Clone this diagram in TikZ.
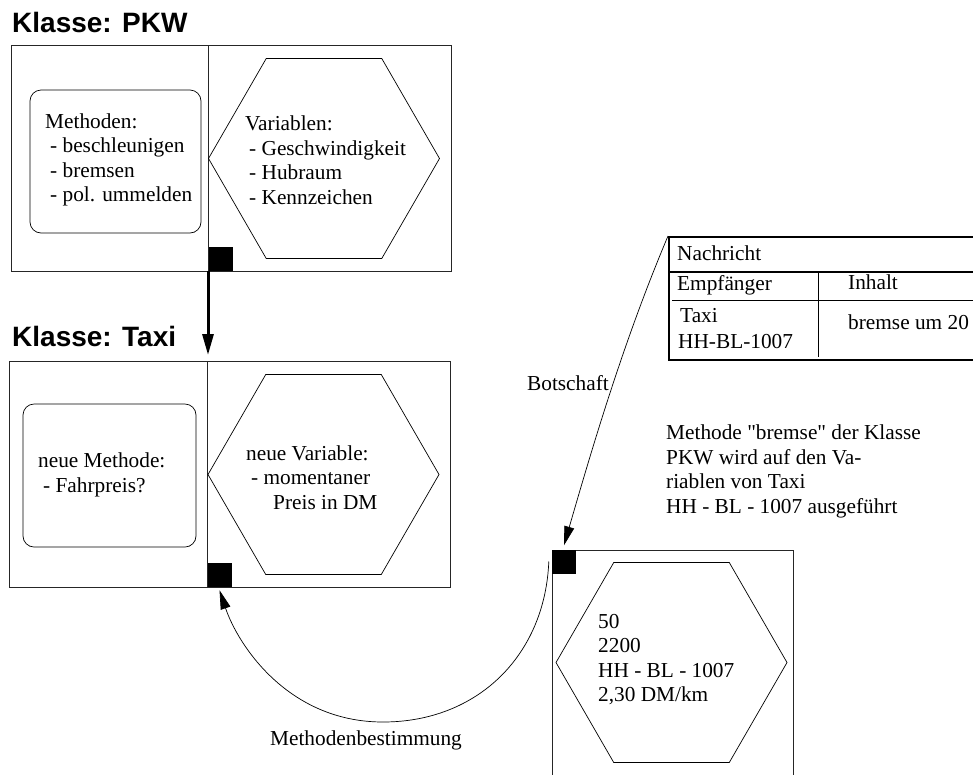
\documentclass[tikz,border=0pt]{standalone}
\usepackage{fontspec}
\setmainfont{Liberation Serif}
\newfontfamily\titlefont{Liberation Sans}
\usetikzlibrary{shapes.geometric,arrows.meta,calc}
% straight double quote, set as a glyph so the TeX ligature mapping leaves it alone
\newcommand\straightdq{\XeTeXglyph\XeTeXcharglyph"22\relax}

\begin{document}
\begin{tikzpicture}[x=1pt,y=-1pt,
  frame/.style={draw=black!85, line width=0.8pt, rectangle, inner sep=0pt},
  divider/.style={draw=black!85, line width=0.8pt},
  hexa/.style={draw, line width=0.7pt, regular polygon, regular polygon sides=6,
               inner sep=0pt, minimum size=231pt},
  methbox/.style={draw, line width=0.7pt, rectangle, rounded corners=11pt, inner sep=0pt},
  block/.style={font=\fontsize{21.3}{24.5}\selectfont, align=left, anchor=west, inner sep=0pt},
  cell/.style={font=\fontsize{21.3}{24.5}\selectfont, anchor=west, inner sep=0pt},
  title/.style={font=\titlefont\bfseries\fontsize{28}{30}\selectfont, anchor=base west, inner sep=0pt},
  port/.style={fill=black, rectangle, minimum size=24pt, inner sep=0pt},
  heavy arrow/.style={line width=3pt, -{Triangle[length=21pt,width=11pt]}},
  thin arrow/.style={line width=0.7pt, -{Triangle[length=19pt,width=10pt]}},
]
\useasboundingbox (0,0) rectangle (973,774);

% ---------- class PKW ----------
\node[title] (pkwtitle) at (12,32) {Klasse: PKW};
\node[frame, minimum width=440pt, minimum height=226pt] (pkw) at (231,158) {};
\coordinate (pkwdivtop) at (208,45);
\coordinate (pkwdivbot) at (208,271);
\draw[divider] (pkwdivtop) -- (pkwdivbot);
\node[methbox, minimum width=171pt, minimum height=143pt] (pkwm) at (115.5,161.5) {};
\node[block] (pkwmtext) at (45,160)
  {Methoden:\\\hspace{5pt}- beschleunigen\\\hspace{5pt}- bremsen\\\hspace{5pt}- pol. ummelden};
\node[hexa] (pkwv) at (324,158.5) {};
\node[block] (pkwvtext) at (245,160)
  {Variablen:\\\hspace{4pt}- Geschwindigkeit\\\hspace{4pt}- Hubraum\\\hspace{4pt}- Kennzeichen};
\node[port] (pkwsq) at (220.5,259) {};

% ---------- inheritance ----------
\coordinate (taxiarrow) at (208,355);
\draw[heavy arrow] (pkwdivbot) -- (taxiarrow);

% ---------- class Taxi ----------
\node[title] (taxititle) at (12,346) {Klasse: Taxi};
\node[frame, minimum width=441pt, minimum height=226pt] (taxi) at (229.5,474) {};
\coordinate (taxidivtop) at (207,361);
\coordinate (taxidivbot) at (207,587);
\draw[divider] (taxidivtop) -- (taxidivbot);
\node[methbox, minimum width=173pt, minimum height=143pt] (taxim) at (109.5,475.5) {};
\node[block] (taxitext) at (38,475) {neue Methode:\\\hspace{5pt}- Fahrpreis?};
\node[hexa] (taxiv) at (323.5,474.5) {};
\node[block] (taxivtext) at (246,477.5)
  {neue Variable:\\\hspace{5pt}- momentaner\\\hspace{27pt}Preis in DM};
\node[port] (taxisq) at (219.5,575) {};

% ---------- message ----------
\node[draw, line width=2pt, rectangle, minimum width=320pt, minimum height=123pt, inner sep=0pt]
  (msg) at (829,298.5) {};
\coordinate (rowAl) at (669,272);
\coordinate (rowAr) at (990,272);
\coordinate (rowBl) at (672,300);
\coordinate (rowBr) at (990,300);
\coordinate (colt) at (818,271);
\coordinate (colb) at (818,357);
\draw[line width=1.6pt] (rowAl) -- (rowAr);
\draw[line width=0.7pt] (rowBl) -- (rowBr);
\draw[line width=0.7pt] (colt) -- (colb);
\node[cell] (nachricht) at (677,253) {Nachricht};
\node[cell] (empf) at (677,285) {Empfänger};
\node[cell] (inhalt) at (848,282) {Inhalt};
\node[cell] (empfa) at (680,316) {Taxi};
\node[cell] (empfb) at (678,342) {HH-BL-1007};
\node[cell] (inhalta) at (848,322) {bremse um 20};

\node[cell, anchor=east] (botschaft) at (609,383) {Botschaft};
\node[block] (erkl) at (666,471.5)
  {Methode \straightdq bremse\straightdq{} der Klasse\\PKW wird auf den Va-\\riablen von Taxi\\HH - BL - 1007 ausgeführt};

% ---------- object Taxi HH-BL-1007 ----------
\node[frame, minimum width=241pt, minimum height=260pt] (res) at (672.5,680) {};
\node[hexa] (resv) at (671.5,662.5) {};
\node[block] (resvtext) at (598,659.5) {50\\2200\\HH - BL - 1007\\2,30 DM/km};
\node[port] (ressq) at (564,561.5) {};

% ---------- messages between objects ----------
\draw[thin arrow] (msg.north west) .. controls (624,340) and (593,445) .. ([yshift=4pt]ressq.north);
\coordinate (lowpt) at (383,722);
\draw[thin arrow] ([xshift=-3pt]ressq.west) .. controls (545,655) and (478,722) .. (lowpt)
  .. controls (288,722) and (238,645) .. ([yshift=-3pt]taxisq.south);
\node[cell, anchor=center] (bestimmung) at (366,740) {Methodenbestimmung};

\end{tikzpicture}
\end{document}
